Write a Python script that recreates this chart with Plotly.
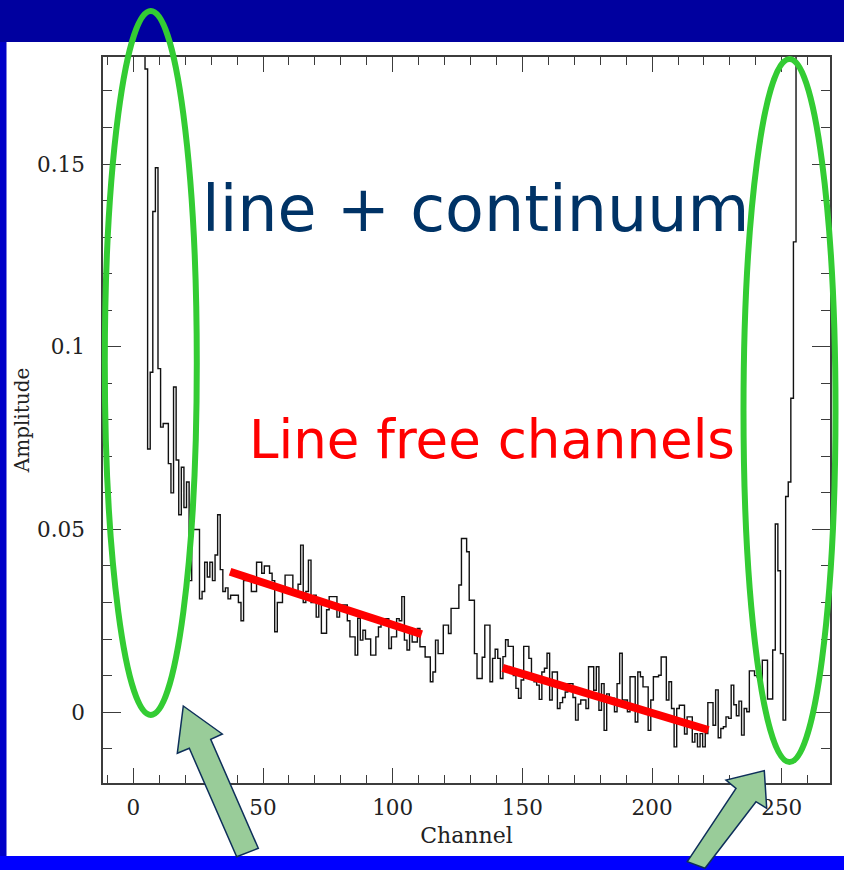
import plotly.graph_objects as go

# Spectrum amplitude for channels 1..256 (first and last channels run off-scale)
amplitude = [
    0.40, 0.34, 0.28, 0.22, 0.176, 0.072, 0.093, 0.137, 0.149, 0.094,
    0.078, 0.079, 0.079, 0.068, 0.060, 0.089, 0.069, 0.054, 0.067, 0.056,
    0.063, 0.036, 0.050, 0.050, 0.050, 0.031, 0.033, 0.041, 0.037, 0.041,
    0.036, 0.043, 0.054, 0.039, 0.033, 0.034, 0.031, 0.032, 0.032, 0.032,
    0.030, 0.025, 0.036, 0.036, 0.036, 0.033, 0.033, 0.041, 0.041, 0.038,
    0.040, 0.040, 0.038, 0.036, 0.022, 0.030, 0.030, 0.033, 0.0375, 0.0375,
    0.0375, 0.033, 0.033, 0.035, 0.0457, 0.030, 0.033, 0.0416, 0.030, 0.032,
    0.026, 0.030, 0.0216, 0.0216, 0.028, 0.0316, 0.0316, 0.0316, 0.026, 0.0293,
    0.0293, 0.0293, 0.025, 0.0206, 0.0206, 0.0156, 0.0257, 0.0197, 0.0224, 0.020,
    0.020, 0.0156, 0.0156, 0.0206, 0.0233, 0.025, 0.0256, 0.0256, 0.0174, 0.0206,
    0.0206, 0.0256, 0.025, 0.0316, 0.0197, 0.017, 0.023, 0.0192, 0.0192, 0.0229,
    0.0179, 0.0179, 0.0151, 0.0151, 0.0083, 0.0110, 0.0197, 0.016, 0.016, 0.0238,
    0.0238, 0.0215, 0.0284, 0.0284, 0.0284, 0.0348, 0.0475, 0.0475, 0.0439, 0.0306,
    0.0306, 0.016, 0.0092, 0.0092, 0.015, 0.0238, 0.0238, 0.0083, 0.0147, 0.0172,
    0.0147, 0.0092, 0.0152, 0.0198, 0.018, 0.018, 0.010, 0.0065, 0.0038, 0.0088,
    0.018, 0.018, 0.0147, 0.0097, 0.0083, 0.0074, 0.0035, 0.011, 0.0120, 0.0161,
    0.0033, 0.011, 0.011, 0.0010, 0.0026, 0.004, 0.0055, 0.0078, 0.0078, 0.004,
    -0.0022, 0.0022, 0.0033, 0.0033, 0.0010, 0.0124, 0.0124, 0.006, 0.0124, 0.0005,
    0.0078, -0.005, 0.005, 0.0038, 0.0038, 0.0001, 0.0078, 0.0161, 0.0033, 0.0033,
    0.0001, 0.0097, 0.0097, -0.0027, 0.011, 0.0097, 0.0069, 0.0069, -0.005, 0.0033,
    0.0097, 0.0097, 0.0101, 0.0151, 0.0151, 0.0033, 0.0083, 0.0010, -0.0095, 0.0010,
    0.0019, 0.0019, -0.006, -0.0013, -0.0013, -0.0082, -0.0059, -0.0095, -0.0059, -0.0095,
    -0.0059, 0.0026, 0.0026, -0.0036, 0.0061, -0.0070, -0.0045, -0.0040, -0.0013, -0.0017,
    0.0074, 0.0020, -0.0010, 0.0030, -0.0063, 0.0010, 0.0001, 0.0113, 0.0113, 0.0100,
    0.0096, 0.0090, 0.0142, 0.0142, 0.0036, 0.0036, 0.017, 0.0515, 0.0387, 0.016,
    -0.0022, 0.059, 0.063, 0.0859, 0.1287, 0.24,
]
channels = list(range(1, len(amplitude) + 1))

# Linear baseline fits over the two line-free windows
fit_left_ch = [37.3, 111.2]
fit_left_amp = [0.0384, 0.0213]
fit_right_ch = [142.4, 221.7]
fit_right_amp = [0.0121, -0.0049]

x_range = [-11.7, 268.6]
y_range = [-0.0194, 0.1793]

W, H = 844, 870
ML, MR, MT, MB = 103, 14, 57, 87
PW, PH = W - ML - MR, H - MT - MB


def fx(px):
    return (px - ML) / PW


def fy(py):
    return (H - MB - py) / PH


def path(points):
    return "M " + " L ".join(f"{fx(a):.5f},{fy(b):.5f}" for a, b in points) + " Z"


fig = go.Figure()

fig.add_trace(go.Scatter(
    x=channels, y=amplitude, mode="lines",
    line=dict(shape="hvh", color="#111111", width=1.4),
    showlegend=False, hoverinfo="skip",
))
for cx, cy in [(fit_left_ch, fit_left_amp), (fit_right_ch, fit_right_amp)]:
    fig.add_trace(go.Scatter(
        x=cx, y=cy, mode="lines",
        line=dict(color="#ff0000", width=8),
        showlegend=False, hoverinfo="skip",
    ))

shapes = []
# slide background: dark band on top, blue strips left and bottom
shapes.append(dict(type="rect", xref="paper", yref="paper", layer="below",
                   x0=fx(0), x1=fx(W), y0=fy(42), y1=fy(0),
                   fillcolor="#00009f", line=dict(width=0)))
shapes.append(dict(type="rect", xref="paper", yref="paper", layer="below",
                   x0=fx(0), x1=fx(6.5), y0=fy(H), y1=fy(42),
                   fillcolor="#0000c8", line=dict(width=0)))
shapes.append(dict(type="rect", xref="paper", yref="paper", layer="below",
                   x0=fx(0), x1=fx(W), y0=fy(H), y1=fy(856),
                   fillcolor="#0000ff", line=dict(width=0)))

# green ellipses around the line-dominated edges
for cx, cy, rx, ry in [(150.8, 363, 46, 352), (789.5, 410.5, 46, 351.5)]:
    shapes.append(dict(type="circle", xref="paper", yref="paper", layer="above",
                       x0=fx(cx - rx), x1=fx(cx + rx), y0=fy(cy + ry), y1=fy(cy - ry),
                       line=dict(color="#33cc33", width=6)))

# block arrows pointing at the ellipses
left_arrow = [(183.3, 706), (222.3, 734), (210.7, 739.3), (258.3, 848.3),
              (236.7, 856.7), (189.3, 748.3), (177.3, 753.3)]
right_arrow = [(764.3, 770.7), (766.7, 808.3), (756, 801.7), (705, 868.3),
               (687.3, 861.7), (736, 788.3), (726, 780)]
for pts in (left_arrow, right_arrow):
    shapes.append(dict(type="path", xref="paper", yref="paper", layer="above",
                       path=path(pts), fillcolor="#99cc99",
                       line=dict(color="#0e2f5a", width=1.5)))

annotations = [
    dict(text="line + continuum", x=131.8, y=0.1378, xref="x", yref="y",
         showarrow=False, xanchor="center", yanchor="middle",
         font=dict(family="DejaVu Sans", size=63.5, color="#003366")),
    dict(text="Line free channels", x=138.2, y=0.0746, xref="x", yref="y",
         showarrow=False, xanchor="center", yanchor="middle",
         font=dict(family="DejaVu Sans", size=53, color="#ff0000")),
]

axis_font = dict(family="DejaVu Serif", size=21.5, color="#222222")
frame = dict(showline=True, linecolor="#3c3c3c", linewidth=1.5, mirror="allticks",
             ticks="inside", tickcolor="#3c3c3c", tickwidth=1.3,
             showgrid=False, zeroline=False, tickfont=axis_font)

fig.update_layout(
    width=W, height=H,
    margin=dict(l=ML, r=MR, t=MT, b=MB),
    paper_bgcolor="white", plot_bgcolor="rgba(0,0,0,0)",
    shapes=shapes, annotations=annotations,
    xaxis=dict(range=x_range, tickvals=[0, 50, 100, 150, 200, 250],
               ticklen=15, ticklabelstandoff=4,
               minor=dict(dtick=10, tick0=0, ticks="inside", ticklen=8,
                          tickwidth=1.3, tickcolor="#3c3c3c"),
               title=dict(text="Channel", standoff=9,
                          font=dict(family="DejaVu Serif", size=22, color="#222222")),
               **frame),
    yaxis=dict(range=y_range, tickvals=[0, 0.05, 0.1, 0.15],
               ticklen=18, ticklabelstandoff=12,
               minor=dict(dtick=0.01, tick0=0, ticks="inside", ticklen=9,
                          tickwidth=1.3, tickcolor="#3c3c3c"),
               title=dict(text="Amplitude", standoff=2,
                          font=dict(family="DejaVu Serif", size=20, color="#222222")),
               **frame),
)

fig.write_html("out.html")
